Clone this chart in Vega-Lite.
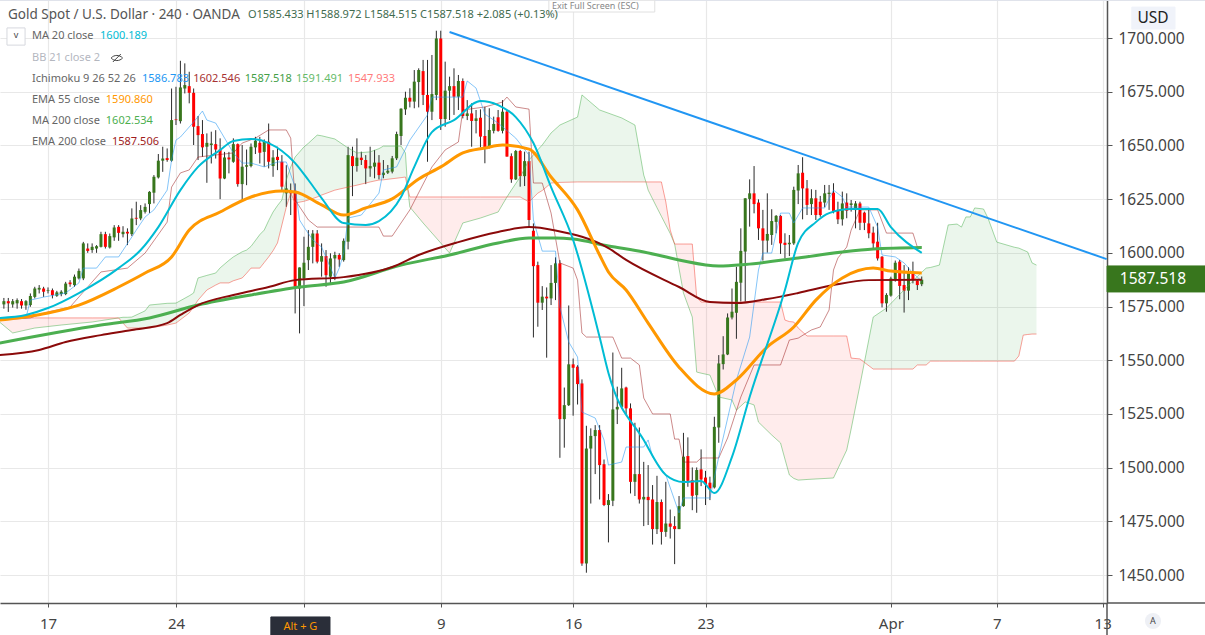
{"$schema":"https://vega.github.io/schema/vega-lite/v6.json","width":1107,"height":603,"autosize":{"type":"none"},"padding":{"left":0,"top":0,"right":98,"bottom":32},"background":"white","config":{"view":{"stroke":null},"font":"Noto Sans"},
"resolve":{"scale":{"color":"independent","stroke":"independent","fill":"independent"}},
"datasets":{
"candles":[
{"t":-10,"o":1576,"c":1577.5,"h":1579,"l":1574},{"t":-9,"o":1577.5,"c":1576.5,"h":1579,"l":1572.5},{"t":-8,"o":1576,"c":1577.5,"h":1578.5,"l":1574.5},{"t":-7,"o":1576.5,"c":1578,"h":1578.8,"l":1574},{"t":-6,"o":1577.5,"c":1575.5,"h":1578.5,"l":1574},{"t":-5,"o":1575.5,"c":1577.5,"h":1578,"l":1573.5},{"t":-4,"o":1575.7,"c":1579.9,"h":1581.1,"l":1574.9},{"t":-3,"o":1579.5,"c":1583.4,"h":1584.2,"l":1578.8},{"t":-2,"o":1582.9,"c":1583.7,"h":1585,"l":1581.1},{"t":-1,"o":1583.4,"c":1581.9,"h":1584.2,"l":1579.5},{"t":0,"o":1582.3,"c":1582.6,"h":1583.9,"l":1581.1},{"t":1,"o":1582.6,"c":1580.3,"h":1583.4,"l":1578.8},{"t":2,"o":1580,"c":1581.6,"h":1582.3,"l":1579.5},{"t":3,"o":1580.8,"c":1581.9,"h":1582.6,"l":1579.8},{"t":4,"o":1580.8,"c":1585.7,"h":1586.5,"l":1580.3},{"t":5,"o":1586.2,"c":1585.4,"h":1587.3,"l":1584.2},{"t":6,"o":1585,"c":1588.9,"h":1589.9,"l":1584.2},{"t":7,"o":1588.1,"c":1591.6,"h":1592.7,"l":1587.6},{"t":8,"o":1588.1,"c":1604.4,"h":1605.1,"l":1587.3},{"t":9,"o":1602,"c":1600.9,"h":1604.4,"l":1600},{"t":10,"o":1601.3,"c":1602.8,"h":1604.4,"l":1600},{"t":11,"o":1602,"c":1603.1,"h":1603.6,"l":1600},{"t":12,"o":1602.8,"c":1608.7,"h":1609.8,"l":1602.5},{"t":13,"o":1608.7,"c":1602.8,"h":1609.8,"l":1602},{"t":14,"o":1602.5,"c":1607.8,"h":1609,"l":1602},{"t":15,"o":1607.2,"c":1611.8,"h":1612.9,"l":1605.6},{"t":16,"o":1612.1,"c":1609.3,"h":1612.9,"l":1605.6},{"t":17,"o":1608.7,"c":1609.8,"h":1612.4,"l":1607.2},{"t":18,"o":1609.8,"c":1609,"h":1611.4,"l":1603.6},{"t":19,"o":1608.7,"c":1616,"h":1620.7,"l":1607.8},{"t":20,"o":1616.3,"c":1615.9,"h":1623.8,"l":1612.9},{"t":21,"o":1616,"c":1619.9,"h":1622.2,"l":1615.2},{"t":22,"o":1619.1,"c":1621.4,"h":1623,"l":1618.3},{"t":23,"o":1622.7,"c":1628.4,"h":1628.7,"l":1618.6},{"t":24,"o":1628,"c":1635.4,"h":1636.2,"l":1623},{"t":25,"o":1635.1,"c":1642.9,"h":1646,"l":1634.6},{"t":26,"o":1642.9,"c":1643.9,"h":1649.4,"l":1637.7},{"t":27,"o":1644.1,"c":1643.2,"h":1648.6,"l":1642.4},{"t":28,"o":1642.9,"c":1661.8,"h":1676.5,"l":1642.4},{"t":29,"o":1662.1,"c":1661.8,"h":1677.3,"l":1659.5},{"t":30,"o":1661.3,"c":1677,"h":1689.4,"l":1660.2},{"t":31,"o":1676.5,"c":1678.1,"h":1688.2,"l":1674.2},{"t":32,"o":1677.6,"c":1674.5,"h":1684.3,"l":1669.6},{"t":33,"o":1674.5,"c":1658.7,"h":1676.5,"l":1650.2},{"t":34,"o":1659,"c":1654.8,"h":1663.7,"l":1643.2},{"t":35,"o":1655.3,"c":1649.1,"h":1661.8,"l":1644.7},{"t":36,"o":1649.4,"c":1651.2,"h":1655.6,"l":1632.6},{"t":37,"o":1650.2,"c":1650.9,"h":1656.4,"l":1641.6},{"t":38,"o":1650.6,"c":1648.1,"h":1657.1,"l":1643.9},{"t":39,"o":1648.1,"c":1634.6,"h":1653.3,"l":1625},{"t":40,"o":1634.6,"c":1644.4,"h":1647,"l":1634.3},{"t":41,"o":1644.4,"c":1643.5,"h":1647,"l":1637},{"t":42,"o":1642.4,"c":1650.6,"h":1653.3,"l":1641.9},{"t":43,"o":1650.6,"c":1632,"h":1650.9,"l":1630.8},{"t":44,"o":1632,"c":1640.1,"h":1650.2,"l":1624.5},{"t":45,"o":1640.1,"c":1640.8,"h":1648.1,"l":1631.5},{"t":46,"o":1640.4,"c":1649.4,"h":1650.9,"l":1639.8},{"t":47,"o":1649.1,"c":1652.2,"h":1654,"l":1646},{"t":48,"o":1651.2,"c":1646.6,"h":1654,"l":1641.6},{"t":49,"o":1647,"c":1651.7,"h":1652.8,"l":1640.1},{"t":50,"o":1651.7,"c":1642.4,"h":1660.2,"l":1639.3},{"t":51,"o":1640.4,"c":1644.4,"h":1647.8,"l":1635.4},{"t":52,"o":1644.7,"c":1643.2,"h":1649.4,"l":1638.5},{"t":53,"o":1642.4,"c":1630.8,"h":1645.5,"l":1629.2},{"t":54,"o":1627.7,"c":1630,"h":1640.8,"l":1621.4},{"t":55,"o":1628.9,"c":1627.7,"h":1632.3,"l":1617.6},{"t":56,"o":1628.9,"c":1584.2,"h":1632.3,"l":1571.8},{"t":57,"o":1583.4,"c":1593.2,"h":1593.2,"l":1562.5},{"t":58,"o":1588.1,"c":1595.4,"h":1607.5,"l":1575.2},{"t":59,"o":1596.6,"c":1602.8,"h":1610.6,"l":1592},{"t":60,"o":1602.8,"c":1609,"h":1610.6,"l":1595.1},{"t":61,"o":1609,"c":1595.9,"h":1610.6,"l":1595.1},{"t":62,"o":1595.9,"c":1598.5,"h":1604.4,"l":1588.9},{"t":63,"o":1598.5,"c":1589.6,"h":1601.3,"l":1584.2},{"t":64,"o":1588.9,"c":1597.4,"h":1599.8,"l":1585.8},{"t":65,"o":1597.4,"c":1599,"h":1600.5,"l":1587.3},{"t":66,"o":1599,"c":1596.9,"h":1599.8,"l":1593.5},{"t":67,"o":1596.6,"c":1605.6,"h":1606.7,"l":1595.9},{"t":68,"o":1605.2,"c":1645.5,"h":1649.4,"l":1601.6},{"t":69,"o":1645,"c":1640.4,"h":1649.4,"l":1626.4},{"t":70,"o":1640.4,"c":1644.3,"h":1653.3,"l":1637.8},{"t":71,"o":1644.3,"c":1643.2,"h":1647.1,"l":1640.9},{"t":72,"o":1643.2,"c":1639.3,"h":1645.5,"l":1632},{"t":73,"o":1639.3,"c":1640.4,"h":1649.4,"l":1635.4},{"t":74,"o":1640.1,"c":1642,"h":1647.9,"l":1634.7},{"t":75,"o":1642,"c":1636.2,"h":1645.5,"l":1634.2},{"t":76,"o":1636.2,"c":1637.3,"h":1643.2,"l":1634.7},{"t":77,"o":1637.3,"c":1638.2,"h":1640.9,"l":1636.7},{"t":78,"o":1637.8,"c":1644,"h":1645.1,"l":1637},{"t":79,"o":1644,"c":1655.3,"h":1656.4,"l":1643.2},{"t":80,"o":1654.4,"c":1667.1,"h":1667.3,"l":1650.2},{"t":81,"o":1666.8,"c":1672.2,"h":1675,"l":1664.2},{"t":82,"o":1672.2,"c":1670.4,"h":1676.6,"l":1667.7},{"t":83,"o":1670.4,"c":1679.7,"h":1685.1,"l":1667.3},{"t":84,"o":1679.5,"c":1685.1,"h":1685.9,"l":1667.7},{"t":85,"o":1684.6,"c":1673.5,"h":1689.8,"l":1668.8},{"t":86,"o":1673.5,"c":1665.7,"h":1689.8,"l":1642.4},{"t":87,"o":1665.7,"c":1673.9,"h":1692.1,"l":1661.8},{"t":88,"o":1673.5,"c":1699.8,"h":1703.4,"l":1671.1},{"t":89,"o":1699.8,"c":1662.3,"h":1703.4,"l":1657.2},{"t":90,"o":1662.3,"c":1675.5,"h":1689,"l":1658.7},{"t":91,"o":1675.5,"c":1677.6,"h":1682,"l":1661.8},{"t":92,"o":1677.6,"c":1672.7,"h":1685.9,"l":1664.2},{"t":93,"o":1672.7,"c":1680,"h":1682.8,"l":1666.5},{"t":94,"o":1680,"c":1663.7,"h":1681.2,"l":1662.6},{"t":95,"o":1663.7,"c":1664.9,"h":1671.1,"l":1661.8},{"t":96,"o":1664.9,"c":1661.4,"h":1669.6,"l":1649.4},{"t":97,"o":1661.4,"c":1662.6,"h":1666.5,"l":1655.6},{"t":98,"o":1662.9,"c":1654.1,"h":1666.8,"l":1649.1},{"t":99,"o":1654.4,"c":1649.1,"h":1668,"l":1641.7},{"t":100,"o":1649.1,"c":1657.2,"h":1667.3,"l":1648.6},{"t":101,"o":1656.8,"c":1660,"h":1663.4,"l":1655.6},{"t":102,"o":1663.1,"c":1656.8,"h":1666.5,"l":1656.4},{"t":103,"o":1656.8,"c":1665.7,"h":1671.1,"l":1655.6},{"t":104,"o":1665.7,"c":1644.8,"h":1666.5,"l":1644.8},{"t":105,"o":1645,"c":1634.2,"h":1646.3,"l":1632.6},{"t":106,"o":1634.2,"c":1647.4,"h":1647.9,"l":1633.9},{"t":107,"o":1647.4,"c":1635.7,"h":1647.9,"l":1630.8},{"t":108,"o":1635.7,"c":1642.7,"h":1647.1,"l":1631.1},{"t":109,"o":1642.7,"c":1615.3,"h":1647.1,"l":1611.8},{"t":110,"o":1610.3,"c":1593.8,"h":1613.7,"l":1560.6},{"t":111,"o":1594.3,"c":1576.8,"h":1595.9,"l":1565.6},{"t":112,"o":1576.8,"c":1579.6,"h":1584.5,"l":1573.4},{"t":113,"o":1579.6,"c":1578.8,"h":1583.9,"l":1551.2},{"t":114,"o":1578.8,"c":1586,"h":1594.3,"l":1575.7},{"t":115,"o":1586,"c":1595.1,"h":1597.9,"l":1578},{"t":116,"o":1595.1,"c":1522.6,"h":1596.6,"l":1504.6},{"t":117,"o":1522.6,"c":1529.1,"h":1537.3,"l":1509.3},{"t":118,"o":1529.1,"c":1548.1,"h":1575.5,"l":1528.7},{"t":119,"o":1548.1,"c":1546.5,"h":1550.8,"l":1524.2},{"t":120,"o":1547,"c":1538.9,"h":1547.7,"l":1529.4},{"t":121,"o":1539.2,"c":1455.4,"h":1541.1,"l":1454.3},{"t":122,"o":1455.4,"c":1508.9,"h":1519.5,"l":1451.1},{"t":123,"o":1508.9,"c":1514.8,"h":1518.3,"l":1483.3},{"t":124,"o":1514.7,"c":1517.5,"h":1519.8,"l":1497},{"t":125,"o":1517.5,"c":1501.2,"h":1519.8,"l":1485.2},{"t":126,"o":1501.6,"c":1482.6,"h":1503.8,"l":1482.1},{"t":127,"o":1482.6,"c":1484.9,"h":1487.7,"l":1465.2},{"t":128,"o":1484.6,"c":1527.1,"h":1553.6,"l":1482.1},{"t":129,"o":1527.1,"c":1528.3,"h":1537.7,"l":1520.3},{"t":130,"o":1528.3,"c":1536.9,"h":1546.5,"l":1527.6},{"t":131,"o":1537.3,"c":1527.6,"h":1537.7,"l":1524.9},{"t":132,"o":1527.6,"c":1493.4,"h":1529.9,"l":1488},{"t":133,"o":1493.4,"c":1497,"h":1520.9,"l":1486.8},{"t":134,"o":1497,"c":1485.2,"h":1518.7,"l":1483.3},{"t":135,"o":1485.2,"c":1486.4,"h":1502.7,"l":1472.8},{"t":136,"o":1486.4,"c":1484.9,"h":1501.2,"l":1473.3},{"t":137,"o":1485.2,"c":1471.4,"h":1491.9,"l":1464.2},{"t":138,"o":1471.4,"c":1484,"h":1496.2,"l":1469.1},{"t":139,"o":1484,"c":1470.1,"h":1485.2,"l":1464.2},{"t":140,"o":1470.1,"c":1474,"h":1493.4,"l":1467.8},{"t":141,"o":1474,"c":1472.5,"h":1480.5,"l":1467},{"t":142,"o":1472.8,"c":1471.4,"h":1477.4,"l":1455.1},{"t":143,"o":1471.4,"c":1482.1,"h":1486.8,"l":1471.4},{"t":144,"o":1482.1,"c":1505.1,"h":1516.2,"l":1481.8},{"t":145,"o":1505.4,"c":1493.9,"h":1514.1,"l":1491.1},{"t":146,"o":1494.2,"c":1486.9,"h":1500.1,"l":1480.2},{"t":147,"o":1487.2,"c":1498.9,"h":1500.1,"l":1479},{"t":148,"o":1499.2,"c":1494.5,"h":1508.5,"l":1491.4},{"t":149,"o":1495.4,"c":1492.3,"h":1498.5,"l":1482.6},{"t":150,"o":1493,"c":1490.3,"h":1495.8,"l":1484.9},{"t":151,"o":1490.8,"c":1519,"h":1523.7,"l":1490.3},{"t":152,"o":1518.7,"c":1548.5,"h":1552.4,"l":1511.6},{"t":153,"o":1548.2,"c":1552.7,"h":1561.2,"l":1545.7},{"t":154,"o":1552.7,"c":1569.9,"h":1571.8,"l":1552.4},{"t":155,"o":1569.9,"c":1572.6,"h":1583.4,"l":1569},{"t":156,"o":1572.1,"c":1586.5,"h":1593.5,"l":1560},{"t":157,"o":1586.1,"c":1600.9,"h":1611.4,"l":1577.3},{"t":158,"o":1600.6,"c":1625.4,"h":1625.4,"l":1577.3},{"t":159,"o":1625.1,"c":1627.7,"h":1634.2,"l":1612.2},{"t":160,"o":1627.7,"c":1622.7,"h":1640.4,"l":1618.4},{"t":161,"o":1623.4,"c":1611.4,"h":1624.9,"l":1606},{"t":162,"o":1611.4,"c":1605.7,"h":1620,"l":1596.4},{"t":163,"o":1605.7,"c":1608.8,"h":1627.7,"l":1600.1},{"t":164,"o":1608.3,"c":1614.8,"h":1620.3,"l":1603.7},{"t":165,"o":1614.4,"c":1617.2,"h":1617.6,"l":1609.1},{"t":166,"o":1617.2,"c":1604.4,"h":1617.6,"l":1599.5},{"t":167,"o":1604.7,"c":1603.7,"h":1609.1,"l":1597.4},{"t":168,"o":1604,"c":1604.7,"h":1608.3,"l":1598.5},{"t":169,"o":1604.4,"c":1629.3,"h":1630.8,"l":1603.7},{"t":170,"o":1629,"c":1637,"h":1640.9,"l":1622.7},{"t":171,"o":1637.3,"c":1630,"h":1644.5,"l":1615.6},{"t":172,"o":1630,"c":1622.3,"h":1633.9,"l":1617.6},{"t":173,"o":1622.7,"c":1625.4,"h":1629.6,"l":1617.6},{"t":174,"o":1625.4,"c":1617.6,"h":1629.3,"l":1615.3},{"t":175,"o":1623.8,"c":1617.6,"h":1626.5,"l":1616.8},{"t":176,"o":1623.4,"c":1627.7,"h":1631.6,"l":1621.2},{"t":177,"o":1627.4,"c":1628,"h":1631.6,"l":1620},{"t":178,"o":1628,"c":1619.5,"h":1632.4,"l":1618.4},{"t":179,"o":1619.5,"c":1615.6,"h":1623.8,"l":1613.4},{"t":180,"o":1615.6,"c":1623,"h":1628.5,"l":1612.7},{"t":181,"o":1623.4,"c":1619.6,"h":1627.7,"l":1616.1},{"t":182,"o":1622.3,"c":1623,"h":1624.6,"l":1619.2},{"t":183,"o":1619.9,"c":1623,"h":1624.1,"l":1611.4},{"t":184,"o":1623,"c":1614,"h":1623.8,"l":1610.6},{"t":185,"o":1618.7,"c":1614,"h":1619.2,"l":1610.6},{"t":186,"o":1613.7,"c":1609.1,"h":1620,"l":1606.8},{"t":187,"o":1609.4,"c":1604.4,"h":1612.2,"l":1602.1},{"t":188,"o":1605.2,"c":1597.4,"h":1614,"l":1596.4},{"t":189,"o":1598.2,"c":1576.5,"h":1598.5,"l":1574.6},{"t":190,"o":1576.5,"c":1580.4,"h":1581.2,"l":1572.6},{"t":191,"o":1580.1,"c":1588.1,"h":1588.9,"l":1579.6},{"t":192,"o":1587.8,"c":1595.4,"h":1596.4,"l":1586.6},{"t":193,"o":1595.9,"c":1584.6,"h":1596.7,"l":1578.4},{"t":194,"o":1585,"c":1582.4,"h":1594.3,"l":1572.2},{"t":195,"o":1582.4,"c":1590.8,"h":1593.3,"l":1578},{"t":196,"o":1590.5,"c":1587.4,"h":1595.9,"l":1585.8},{"t":197,"o":1587,"c":1585,"h":1587.4,"l":1582.7},{"t":198,"o":1585.4,"c":1587.5,"h":1589,"l":1584.5}],
"cloud":[
{"t":-11,"a":1567.8,"b":1569.7,"s":"1"},{"t":-8,"a":1562.7,"b":1569.7,"s":"1"},{"t":-3,"a":1565,"b":1569.7,"s":"1"},{"t":3,"a":1566.4,"b":1569.7,"s":"1"},{"t":10,"a":1567.8,"b":1569.7,"s":"1"},{"t":16,"a":1569.7,"b":1569.7,"s":"1"},
{"t":16,"a":1569.7,"b":1569.7,"s":"2"},{"t":17,"a":1570,"b":1567.3,"s":"2"},{"t":18,"a":1570,"b":1565,"s":"2"},{"t":19,"a":1570.1,"b":1565,"s":"2"},{"t":22,"a":1573,"b":1565,"s":"2"},{"t":23,"a":1575.7,"b":1565,"s":"2"},{"t":27,"a":1576.5,"b":1566.4,"s":"2"},{"t":29,"a":1576.6,"b":1567.3,"s":"2"},{"t":32,"a":1580,"b":1572,"s":"2"},{"t":33,"a":1581.3,"b":1575,"s":"2"},{"t":34,"a":1588.3,"b":1578,"s":"2"},{"t":36,"a":1589.5,"b":1582.7,"s":"2"},{"t":38,"a":1590.6,"b":1585,"s":"2"},{"t":39,"a":1593,"b":1586,"s":"2"},{"t":41,"a":1596.5,"b":1586,"s":"2"},{"t":42,"a":1598.1,"b":1587,"s":"2"},{"t":44,"a":1600.5,"b":1588.3,"s":"2"},{"t":45,"a":1601.3,"b":1590.5,"s":"2"},{"t":46,"a":1603,"b":1592.9,"s":"2"},{"t":48,"a":1608.5,"b":1592.9,"s":"2"},{"t":49,"a":1610.6,"b":1595.5,"s":"2"},{"t":50,"a":1615,"b":1598.1,"s":"2"},{"t":51,"a":1619,"b":1601,"s":"2"},{"t":52,"a":1622,"b":1604.6,"s":"2"},{"t":53,"a":1624.6,"b":1613,"s":"2"},{"t":54,"a":1634,"b":1621.3,"s":"2"},{"t":55,"a":1640,"b":1627.8,"s":"2"},{"t":56,"a":1644.6,"b":1623.2,"s":"2"},{"t":58,"a":1649.3,"b":1624,"s":"2"},{"t":59,"a":1651,"b":1624.6,"s":"2"},{"t":61,"a":1654.8,"b":1626,"s":"2"},{"t":62,"a":1654.5,"b":1626.9,"s":"2"},{"t":65,"a":1653,"b":1629.2,"s":"2"},{"t":68,"a":1648.8,"b":1630.6,"s":"2"},{"t":70,"a":1646.5,"b":1631.5,"s":"2"},{"t":73,"a":1647,"b":1633,"s":"2"},{"t":75,"a":1648.5,"b":1633.9,"s":"2"},{"t":76,"a":1649.7,"b":1634,"s":"2"},{"t":80,"a":1649.7,"b":1635,"s":"2"},{"t":81,"a":1646.5,"b":1635.3,"s":"2"},{"t":81.5,"a":1630,"b":1630,"s":"2"},
{"t":81.5,"a":1630,"b":1630,"s":"3"},{"t":82,"a":1621.3,"b":1626,"s":"3"},{"t":85,"a":1613.9,"b":1626,"s":"3"},{"t":91,"a":1599.9,"b":1626,"s":"3"},{"t":94,"a":1613.9,"b":1626,"s":"3"},{"t":98,"a":1616.2,"b":1626,"s":"3"},{"t":102,"a":1619,"b":1626,"s":"3"},{"t":104,"a":1626,"b":1626,"s":"3"},
{"t":104,"a":1626,"b":1626,"s":"4"},{"t":105,"a":1629.2,"b":1626,"s":"4"},{"t":107,"a":1635.3,"b":1626,"s":"4"},{"t":109,"a":1643.2,"b":1623.7,"s":"4"},{"t":111,"a":1648,"b":1627.8,"s":"4"},{"t":112,"a":1650.2,"b":1629,"s":"4"},{"t":114,"a":1655.8,"b":1632.5,"s":"4"},{"t":116,"a":1659.5,"b":1632.8,"s":"4"},{"t":120,"a":1663.2,"b":1633,"s":"4"},{"t":121,"a":1673.5,"b":1633,"s":"4"},{"t":125,"a":1666.5,"b":1633,"s":"4"},{"t":130,"a":1662.8,"b":1633,"s":"4"},{"t":133,"a":1659.5,"b":1633,"s":"4"},{"t":135,"a":1636.2,"b":1633,"s":"4"},{"t":135.5,"a":1633,"b":1633,"s":"4"},
{"t":135.5,"a":1633,"b":1633,"s":"5"},{"t":136,"a":1629.2,"b":1633,"s":"5"},{"t":138,"a":1621,"b":1633,"s":"5"},{"t":139,"a":1617,"b":1633,"s":"5"},{"t":140,"a":1613,"b":1623.7,"s":"5"},{"t":141,"a":1609,"b":1610.6,"s":"5"},{"t":142,"a":1604.1,"b":1604.1,"s":"5"},{"t":144,"a":1581.3,"b":1604.1,"s":"5"},{"t":146,"a":1570.1,"b":1604.1,"s":"5"},{"t":147,"a":1544.5,"b":1579.4,"s":"5"},{"t":148,"a":1544,"b":1577.1,"s":"5"},{"t":150,"a":1543.1,"b":1577.1,"s":"5"},{"t":152,"a":1532.9,"b":1577.1,"s":"5"},{"t":155,"a":1531.5,"b":1577.1,"s":"5"},{"t":156,"a":1526.8,"b":1577.1,"s":"5"},{"t":158,"a":1530.6,"b":1577.1,"s":"5"},{"t":160,"a":1529.2,"b":1577.1,"s":"5"},{"t":161,"a":1521.2,"b":1577.1,"s":"5"},{"t":164,"a":1515.2,"b":1577.1,"s":"5"},{"t":166,"a":1511.5,"b":1577.1,"s":"5"},{"t":167,"a":1504,"b":1568.7,"s":"5"},{"t":168,"a":1496.6,"b":1568,"s":"5"},{"t":169,"a":1495,"b":1567.8,"s":"5"},{"t":170,"a":1494.2,"b":1565,"s":"5"},{"t":172,"a":1494.5,"b":1561.3,"s":"5"},{"t":178,"a":1495.2,"b":1561.3,"s":"5"},{"t":181,"a":1508.2,"b":1561.3,"s":"5"},{"t":182,"a":1518,"b":1551,"s":"5"},{"t":184,"a":1538.5,"b":1550.6,"s":"5"},{"t":185,"a":1549,"b":1549,"s":"5"},
{"t":185,"a":1549,"b":1549,"s":"6"},{"t":187,"a":1570.1,"b":1545.9,"s":"6"},{"t":190,"a":1574.3,"b":1545.9,"s":"6"},{"t":196,"a":1587,"b":1545.9,"s":"6"},{"t":197,"a":1589,"b":1547.8,"s":"6"},{"t":199,"a":1592.9,"b":1547.8,"s":"6"},{"t":200,"a":1593.2,"b":1549.6,"s":"6"},{"t":202,"a":1594.3,"b":1549.6,"s":"6"},{"t":204,"a":1613,"b":1549.6,"s":"6"},{"t":206,"a":1613.4,"b":1549.6,"s":"6"},{"t":207,"a":1612,"b":1549.6,"s":"6"},{"t":208,"a":1616.7,"b":1549.6,"s":"6"},{"t":209,"a":1616.7,"b":1549.6,"s":"6"},{"t":210,"a":1620.9,"b":1549.6,"s":"6"},{"t":212,"a":1620.4,"b":1549.6,"s":"6"},{"t":213,"a":1616.2,"b":1549.6,"s":"6"},{"t":215,"a":1605,"b":1549.6,"s":"6"},{"t":218,"a":1603.2,"b":1549.6,"s":"6"},{"t":219,"a":1602.6,"b":1549.6,"s":"6"},{"t":220,"a":1602.2,"b":1552,"s":"6"},{"t":221,"a":1601.3,"b":1561.7,"s":"6"},{"t":222,"a":1600.4,"b":1562,"s":"6"},{"t":223,"a":1595.3,"b":1562.2,"s":"6"},{"t":224,"a":1594.3,"b":1562.2,"s":"6"}],
"tenkan":[{"t":-11,"p":1569.7},{"t":-5,"p":1569.7},{"t":-4,"p":1578},{"t":-1,"p":1579.4},{"t":4,"p":1581.3},{"t":7,"p":1586},{"t":8,"p":1592.9},{"t":11,"p":1592.9},{"t":13,"p":1598.1},{"t":16,"p":1598.1},{"t":19,"p":1607.4},{"t":20,"p":1610.6},{"t":22,"p":1616.7},{"t":24,"p":1620},{"t":27,"p":1629.2},{"t":28,"p":1643.2},{"t":29,"p":1652.5},{"t":30,"p":1653.9},{"t":33,"p":1660.9},{"t":35,"p":1666},{"t":36,"p":1661.8},{"t":38,"p":1660.4},{"t":42,"p":1646.5},{"t":44,"p":1641.8},{"t":46,"p":1641.8},{"t":49,"p":1640},{"t":52,"p":1642.3},{"t":54,"p":1642.3},{"t":56,"p":1630.6},{"t":57,"p":1615.3},{"t":58,"p":1612},{"t":60,"p":1606},{"t":62,"p":1602.7},{"t":65,"p":1588.3},{"t":66,"p":1592.9},{"t":67,"p":1599.9},{"t":68,"p":1616.2},{"t":71,"p":1617.6},{"t":75,"p":1627.8},{"t":76,"p":1638.6},{"t":79,"p":1640},{"t":82,"p":1652.5},{"t":86,"p":1664.2},{"t":87,"p":1672.5},{"t":94,"p":1672.5},{"t":95,"p":1680},{"t":97,"p":1676.7},{"t":99,"p":1664.6},{"t":102,"p":1660.4},{"t":106,"p":1653.4},{"t":109,"p":1645.5},{"t":110,"p":1615.3},{"t":112,"p":1600.8},{"t":115,"p":1600.8},{"t":116,"p":1574.8},{"t":118,"p":1558.5},{"t":120,"p":1551.5},{"t":121,"p":1525.9},{"t":124,"p":1523.1},{"t":126,"p":1512.9},{"t":127,"p":1501.2},{"t":130,"p":1502.6},{"t":131,"p":1509.6},{"t":135,"p":1509.6},{"t":136,"p":1512.9},{"t":137,"p":1505},{"t":140,"p":1496.6},{"t":143,"p":1478.9},{"t":144,"p":1485.9},{"t":150,"p":1485.9},{"t":152,"p":1505},{"t":156,"p":1540.8},{"t":159,"p":1560.8},{"t":161,"p":1592},{"t":162,"p":1599.9},{"t":164,"p":1599.9},{"t":166,"p":1618.5},{"t":168,"p":1618.5},{"t":169,"p":1613.9},{"t":171,"p":1620.9},{"t":176,"p":1620.9},{"t":178,"p":1629.2},{"t":180,"p":1626},{"t":181,"p":1621.3},{"t":186,"p":1621.3},{"t":188,"p":1612},{"t":189,"p":1599},{"t":192,"p":1598.1},{"t":194,"p":1595.3},{"t":196,"p":1590.6},{"t":198,"p":1586.8}],
"kijun":[{"t":-11,"p":1568.7},{"t":-4,"p":1569.7},{"t":0,"p":1572.5},{"t":5,"p":1574.8},{"t":9,"p":1584.1},{"t":12,"p":1591.1},{"t":18,"p":1592.9},{"t":22,"p":1599.9},{"t":27,"p":1614.3},{"t":28,"p":1630.6},{"t":30,"p":1637.2},{"t":32,"p":1638.6},{"t":34,"p":1644.6},{"t":42,"p":1646.5},{"t":44,"p":1651.1},{"t":47,"p":1653.4},{"t":50,"p":1657.2},{"t":54,"p":1657.2},{"t":55,"p":1653.4},{"t":56,"p":1624.6},{"t":59,"p":1615.3},{"t":61,"p":1612},{"t":75,"p":1612},{"t":76,"p":1607.8},{"t":78,"p":1607.8},{"t":80,"p":1613.9},{"t":82,"p":1620},{"t":87,"p":1640},{"t":90,"p":1647.9},{"t":93,"p":1651.6},{"t":94,"p":1666.5},{"t":99,"p":1667.9},{"t":103,"p":1670.2},{"t":104,"p":1672.5},{"t":106,"p":1667.9},{"t":109,"p":1666.9},{"t":110,"p":1632.5},{"t":112,"p":1632.5},{"t":114,"p":1618.5},{"t":116,"p":1595.3},{"t":119,"p":1592.9},{"t":120,"p":1587.3},{"t":121,"p":1562.7},{"t":122,"p":1560.8},{"t":128,"p":1560.8},{"t":130,"p":1551},{"t":132,"p":1551},{"t":134,"p":1547.8},{"t":135,"p":1532.4},{"t":137,"p":1525},{"t":141,"p":1525},{"t":142,"p":1513.3},{"t":143,"p":1513.3},{"t":144,"p":1502.6},{"t":147,"p":1502.6},{"t":148,"p":1504.5},{"t":152,"p":1504.5},{"t":154,"p":1513.8},{"t":157,"p":1532.9},{"t":160,"p":1547.8},{"t":166,"p":1547.8},{"t":168,"p":1559.4},{"t":170,"p":1560.3},{"t":173,"p":1564.1},{"t":175,"p":1565.5},{"t":177,"p":1573.4},{"t":178,"p":1592},{"t":179,"p":1597.6},{"t":181,"p":1602.7},{"t":182,"p":1610.6},{"t":184,"p":1620},{"t":188,"p":1620},{"t":190,"p":1609.2},{"t":196,"p":1609.2},{"t":197,"p":1602.7},{"t":198,"p":1602.7}],
"ma200":[{"t":-11,"p":1558},{"t":12,"p":1566.4},{"t":23,"p":1569.7},{"t":34,"p":1575.7},{"t":46,"p":1580.4},{"t":57,"p":1584.1},{"t":67,"p":1586.4},{"t":80,"p":1594.3},{"t":91,"p":1599},{"t":102,"p":1604.6},{"t":109,"p":1606.9},{"t":115,"p":1606.9},{"t":119,"p":1606.4},{"t":127,"p":1603.2},{"t":135,"p":1600.4},{"t":143,"p":1596.7},{"t":152,"p":1593.9},{"t":158,"p":1594.6},{"t":170,"p":1597.6},{"t":180,"p":1600.4},{"t":187,"p":1601.8},{"t":198,"p":1602.5}],
"ema200":[{"t":-11,"p":1552.4},{"t":-2,"p":1554.8},{"t":4,"p":1558.5},{"t":12,"p":1561.7},{"t":19,"p":1564.1},{"t":27,"p":1567.3},{"t":30,"p":1571.1},{"t":34,"p":1575.7},{"t":42,"p":1580.4},{"t":50,"p":1584.1},{"t":56,"p":1587.3},{"t":67,"p":1588.7},{"t":78,"p":1593.4},{"t":84,"p":1599},{"t":93,"p":1605},{"t":102,"p":1609.7},{"t":109,"p":1612},{"t":115,"p":1610.4},{"t":127,"p":1602.2},{"t":131,"p":1596.7},{"t":143,"p":1584.1},{"t":150,"p":1577.1},{"t":156,"p":1576.6},{"t":163,"p":1578.5},{"t":170,"p":1581.3},{"t":178,"p":1585},{"t":186,"p":1587.3},{"t":198,"p":1587.5}],
"ema55":[{"t":-11,"p":1568.7},{"t":0,"p":1572},{"t":7,"p":1575.7},{"t":16,"p":1584.1},{"t":22,"p":1590.6},{"t":28,"p":1598.1},{"t":32,"p":1610.6},{"t":39,"p":1619},{"t":46,"p":1626},{"t":53,"p":1628.8},{"t":56,"p":1628.3},{"t":62,"p":1622.3},{"t":67,"p":1617.6},{"t":72,"p":1620.9},{"t":78,"p":1625.1},{"t":84,"p":1634.4},{"t":89,"p":1640},{"t":94,"p":1646.5},{"t":99,"p":1648.8},{"t":103,"p":1650.2},{"t":109,"p":1648.3},{"t":114,"p":1635.3},{"t":120,"p":1620},{"t":125,"p":1599},{"t":127,"p":1591.1},{"t":131,"p":1582.7},{"t":136,"p":1567.3},{"t":143,"p":1546.8},{"t":151,"p":1534.3},{"t":156,"p":1540.8},{"t":163,"p":1556.2},{"t":169,"p":1565.5},{"t":174,"p":1578},{"t":180,"p":1588.3},{"t":187,"p":1592.9},{"t":191,"p":1591.5},{"t":198,"p":1590.6}],
"ma20":[{"t":-11,"p":1569.7},{"t":-5,"p":1571.1},{"t":0,"p":1574.3},{"t":7,"p":1581.3},{"t":16,"p":1592.9},{"t":21,"p":1601.3},{"t":25,"p":1612},{"t":30,"p":1629.2},{"t":34,"p":1640},{"t":39,"p":1647.9},{"t":42,"p":1652.1},{"t":46,"p":1653},{"t":50,"p":1651.1},{"t":56,"p":1641.8},{"t":59,"p":1633.9},{"t":62,"p":1625.5},{"t":67,"p":1613.9},{"t":72,"p":1613},{"t":75,"p":1614.8},{"t":80,"p":1626},{"t":83,"p":1640},{"t":87,"p":1656.2},{"t":92,"p":1661.8},{"t":98,"p":1670.7},{"t":102,"p":1668.8},{"t":106,"p":1663.2},{"t":110,"p":1651.1},{"t":114,"p":1630.6},{"t":119,"p":1606},{"t":125,"p":1560.8},{"t":127,"p":1544.1},{"t":135,"p":1512.9},{"t":140,"p":1496.6},{"t":144,"p":1493.3},{"t":148,"p":1493.8},{"t":151,"p":1488.2},{"t":155,"p":1505},{"t":159,"p":1532.9},{"t":167,"p":1582.7},{"t":170,"p":1604.6},{"t":174,"p":1614.3},{"t":177,"p":1618.5},{"t":182,"p":1620.4},{"t":188,"p":1620.4},{"t":191,"p":1612},{"t":198,"p":1600}],
"trend":[{"t":91,"p":1702.8},{"t":239.9,"p":1597.1}],
"frame":[{"t":240,"t2":262.2,"p":1437,"name":"xline"},{"t":-10.88,"t2":262.2,"p":1717.6,"name":"top"}],
"yline":[{"t":239.98,"p":1437,"p2":1421.5}],
"boxes":[{"t":240,"t2":262.2,"p":1593.9,"p2":1581.8,"name":"price"},{"t":245.6,"t2":255.4,"p":1714.4,"p2":1704.2,"name":"usd"},{"t":50.5,"t2":63.9,"p":1430.5,"p2":1421.5,"name":"badge"},{"t":113.5,"t2":137.5,"p":1717.6,"p2":1712.1,"name":"exit"},{"t":-9.3,"t2":-5.2,"p":1704.7,"p2":1696.7,"name":"btn"}],
"labels":[
{"t":-9.06,"p":1710.7,"text":"Gold Spot / U.S. Dollar · 240 · OANDA","k":"title","g":"title"},
{"t":45.3,"p":1710.7,"text":"O1585.433  H1588.972  L1584.515  C1587.518  +2.085 (+0.13%)","k":"ohlc","g":"legend"},
{"t":-3.63,"p":1700.9,"text":"MA 20 close","k":"name","g":"legend"},{"t":11.8,"p":1700.9,"text":"1600.189","k":"ma20","g":"legend"},
{"t":-3.63,"p":1690.7,"text":"BB 21 close 2","k":"off","g":"legend"},
{"t":-3.63,"p":1680.9,"text":"Ichimoku 9 26 52 26","k":"name","g":"legend"},{"t":21.3,"p":1680.9,"text":"1586.783","k":"tenkan","g":"legend"},{"t":32.9,"p":1680.9,"text":"1602.546","k":"kijun","g":"legend"},{"t":44.6,"p":1680.9,"text":"1587.518","k":"lag","g":"legend"},{"t":56.2,"p":1680.9,"text":"1591.491","k":"a","g":"legend"},{"t":68,"p":1680.9,"text":"1547.933","k":"b","g":"legend"},
{"t":-3.63,"p":1671.1,"text":"EMA 55 close","k":"name","g":"legend"},{"t":13.1,"p":1671.1,"text":"1590.860","k":"ema55","g":"legend"},
{"t":-3.63,"p":1661.4,"text":"MA 200 close","k":"name","g":"legend"},{"t":13.1,"p":1661.4,"text":"1602.534","k":"ma200","g":"legend"},
{"t":-3.63,"p":1651.6,"text":"EMA 200 close","k":"name","g":"legend"},{"t":14.5,"p":1651.6,"text":"1587.506","k":"ema200","g":"legend"},
{"t":114.2,"p":1714.9,"text":"Exit Full Screen (ESC)","k":"off","g":"small"}],
"center":[{"t":250.4,"p":1587.9,"text":"1587.518","k":"price","g":"big"},{"t":250.4,"p":1709.3,"text":"USD","k":"usd","g":"big"},{"t":57.2,"p":1426,"text":"Alt + G","k":"badge","g":"mid"},{"t":250.4,"p":1428.6,"text":"A","k":"auto","g":"tiny"},{"t":-7.25,"p":1701.2,"text":"v","k":"auto2","g":"tiny"}],
"eye":[{"t":15.6,"p":1690.7}],
"auto":[{"t":250.4,"p":1428.6}]
},
"encoding":{"x":{"field":"t","type":"quantitative","scale":{"domain":[-10.88,239.98],"nice":false,"zero":false},"axis":{"title":null,"values":[0,29,58,89,119,149,191,215,239],"labelExpr":"{0:'17',29:'24',58:'',89:'9',119:'16',149:'23',191:'Apr',215:'7',239:'13'}[datum.value]","grid":true,"gridColor":"#e8e8e8","gridWidth":1.2,"domainColor":"#555","domainWidth":1.5,"tickColor":"#555","tickSize":4,"labelColor":"#444","labelFontSize":15,"labelPadding":9,"labelFont":"Noto Sans","labelOverlap":false,"labelFlush":false}}},
"layer":[
{"data":{"name":"cloud"},"mark":{"type":"area","opacity":0.11},"encoding":{"y":{"field":"a","type":"quantitative","scale":{"domain":[1437,1717.7],"nice":false,"zero":false},"axis":{"orient":"right","title":null,"values":[1450,1475,1500,1525,1550,1575,1600,1625,1650,1675,1700],"format":".3f","grid":true,"gridColor":"#e8e8e8","gridWidth":1.2,"domainColor":"#555","domainWidth":1.5,"tickColor":"#555","tickSize":5,"labelColor":"#444","labelFontSize":15.5,"labelPadding":6,"labelFont":"Noto Sans"}},"y2":{"field":"b"},"color":{"field":"s","type":"nominal","legend":null,"scale":{"domain":["1","2","3","4","5","6"],"range":["#ff5252","#4caf50","#ff5252","#4caf50","#ff5252","#4caf50"]}}}},
{"data":{"name":"candles"},"mark":{"type":"rule","strokeWidth":1,"color":"#2b2b2b"},"encoding":{"y":{"field":"l","type":"quantitative","scale":{"domain":[1437,1717.7],"nice":false,"zero":false}},"y2":{"field":"h"}}},
{"data":{"name":"candles"},"mark":{"type":"rule","strokeWidth":3},"encoding":{"y":{"field":"o","type":"quantitative","scale":{"domain":[1437,1717.7],"nice":false,"zero":false}},"y2":{"field":"c"},"stroke":{"condition":{"test":"datum.c>=datum.o","value":"#38761d"},"value":"#ff0000"}}},
{"data":{"name":"cloud"},"mark":{"type":"line","strokeWidth":1,"color":"#4caf50","opacity":0.5},"encoding":{"y":{"field":"a","type":"quantitative","scale":{"domain":[1437,1717.7],"nice":false,"zero":false}}}},
{"data":{"name":"cloud"},"mark":{"type":"line","strokeWidth":1,"color":"#f44336","opacity":0.5},"encoding":{"y":{"field":"b","type":"quantitative","scale":{"domain":[1437,1717.7],"nice":false,"zero":false}}}},
{"data":{"name":"kijun"},"mark":{"type":"line","strokeWidth":1,"color":"#991515","opacity":0.5},"encoding":{"y":{"field":"p","type":"quantitative","scale":{"domain":[1437,1717.7],"nice":false,"zero":false}}}},
{"data":{"name":"tenkan"},"mark":{"type":"line","strokeWidth":1,"color":"#2196f3","opacity":0.55},"encoding":{"y":{"field":"p","type":"quantitative","scale":{"domain":[1437,1717.7],"nice":false,"zero":false}}}},
{"data":{"name":"ma200"},"mark":{"type":"line","strokeWidth":3,"color":"#4caf50","interpolate":"monotone"},"encoding":{"y":{"field":"p","type":"quantitative","scale":{"domain":[1437,1717.7],"nice":false,"zero":false}}}},
{"data":{"name":"ema200"},"mark":{"type":"line","strokeWidth":2,"color":"#8b0a0a","interpolate":"monotone"},"encoding":{"y":{"field":"p","type":"quantitative","scale":{"domain":[1437,1717.7],"nice":false,"zero":false}}}},
{"data":{"name":"ema55"},"mark":{"type":"line","strokeWidth":3,"color":"#ff9800","interpolate":"monotone"},"encoding":{"y":{"field":"p","type":"quantitative","scale":{"domain":[1437,1717.7],"nice":false,"zero":false}}}},
{"data":{"name":"ma20"},"mark":{"type":"line","strokeWidth":2,"color":"#00bcd4","interpolate":"monotone"},"encoding":{"y":{"field":"p","type":"quantitative","scale":{"domain":[1437,1717.7],"nice":false,"zero":false}}}},
{"data":{"name":"trend"},"mark":{"type":"line","strokeWidth":2,"color":"#2196f3"},"encoding":{"y":{"field":"p","type":"quantitative","scale":{"domain":[1437,1717.7],"nice":false,"zero":false}}}},
{"data":{"name":"frame"},"mark":{"type":"rule","strokeWidth":1.5},"encoding":{"x2":{"field":"t2"},"y":{"field":"p","type":"quantitative","scale":{"domain":[1437,1717.7],"nice":false,"zero":false}},"stroke":{"field":"name","type":"nominal","legend":null,"scale":{"domain":["xline","top"],"range":["#555555","#e0e3eb"]}}}},
{"data":{"name":"yline"},"mark":{"type":"rule","strokeWidth":1.5,"color":"#555"},"encoding":{"y":{"field":"p","type":"quantitative","scale":{"domain":[1437,1717.7],"nice":false,"zero":false}},"y2":{"field":"p2"}}},
{"data":{"name":"boxes"},"mark":{"type":"rect","strokeWidth":1},"encoding":{"x2":{"field":"t2"},"y":{"field":"p","type":"quantitative","scale":{"domain":[1437,1717.7],"nice":false,"zero":false}},"y2":{"field":"p2"},"fill":{"field":"name","type":"nominal","legend":null,"scale":{"domain":["price","usd","badge","exit","btn"],"range":["#38761d","#f0f3fa","#2a2e39","#ffffff","#ffffff"]}},"stroke":{"field":"name","type":"nominal","legend":null,"scale":{"domain":["price","usd","badge","exit","btn"],"range":["#38761d","#f0f3fa","#2a2e39","#e0e0e0","#d6d8de"]}}}},
{"data":{"name":"labels"},"transform":[{"filter":"datum.g=='title'"}],"mark":{"type":"text","align":"left","baseline":"middle","fontSize":13.5},"encoding":{"y":{"field":"p","type":"quantitative","scale":{"domain":[1437,1717.7],"nice":false,"zero":false}},"text":{"field":"text"},"color":{"value":"#555555"}}},
{"data":{"name":"labels"},"transform":[{"filter":"datum.g=='legend'"}],"mark":{"type":"text","align":"left","baseline":"middle","fontSize":11},"encoding":{"y":{"field":"p","type":"quantitative","scale":{"domain":[1437,1717.7],"nice":false,"zero":false}},"text":{"field":"text"},"color":{"field":"k","type":"nominal","legend":null,"scale":{"domain":["ohlc","name","off","ma20","tenkan","kijun","lag","a","b","ema55","ma200","ema200"],"range":["#3f6b4f","#666666","#b4b7bf","#00bcd4","#2196f3","#a83232","#43a047","#66bb6a","#ff7b7b","#ff9800","#4caf50","#a01c1c"]}}}},
{"data":{"name":"labels"},"transform":[{"filter":"datum.g=='small'"}],"mark":{"type":"text","align":"left","baseline":"middle","fontSize":9,"color":"#888888"},"encoding":{"y":{"field":"p","type":"quantitative","scale":{"domain":[1437,1717.7],"nice":false,"zero":false}},"text":{"field":"text"}}},
{"data":{"name":"auto"},"mark":{"type":"point","filled":true,"size":260,"color":"#eef0f5","opacity":1},"encoding":{"y":{"field":"p","type":"quantitative","scale":{"domain":[1437,1717.7],"nice":false,"zero":false}}}},
{"data":{"name":"eye"},"mark":{"type":"point","size":130,"filled":false,"color":"#444","strokeWidth":1,"opacity":1,"shape":"M-1,0C-.5,-.6 .5,-.6 1,0C.5,.6 -.5,.6 -1,0ZM.7,-.7L-.7,.7"},"encoding":{"y":{"field":"p","type":"quantitative","scale":{"domain":[1437,1717.7],"nice":false,"zero":false}}}},
{"data":{"name":"center"},"transform":[{"filter":"datum.g=='big'"}],"mark":{"type":"text","align":"center","baseline":"middle","fontSize":15.5},"encoding":{"y":{"field":"p","type":"quantitative","scale":{"domain":[1437,1717.7],"nice":false,"zero":false}},"text":{"field":"text"},"color":{"field":"k","type":"nominal","legend":null,"scale":{"domain":["price","usd"],"range":["#ffffff","#222222"]}}}},
{"data":{"name":"center"},"transform":[{"filter":"datum.g=='mid'"}],"mark":{"type":"text","align":"center","baseline":"middle","fontSize":11,"color":"#ff9800"},"encoding":{"y":{"field":"p","type":"quantitative","scale":{"domain":[1437,1717.7],"nice":false,"zero":false}},"text":{"field":"text"}}},
{"data":{"name":"center"},"transform":[{"filter":"datum.g=='tiny'"}],"mark":{"type":"text","align":"center","baseline":"middle","fontSize":9,"color":"#444"},"encoding":{"y":{"field":"p","type":"quantitative","scale":{"domain":[1437,1717.7],"nice":false,"zero":false}},"text":{"field":"text"}}}
]}
